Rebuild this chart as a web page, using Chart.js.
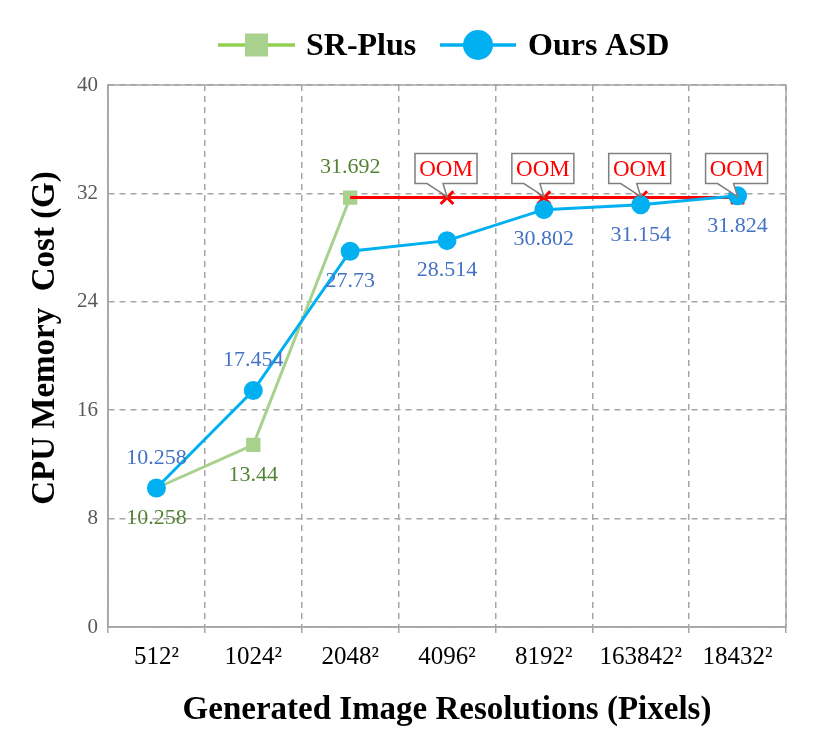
<!DOCTYPE html>
<html>
<head>
<meta charset="utf-8">
<script src="https://cdn.jsdelivr.net/npm/chart.js@4.4.1/dist/chart.umd.min.js"></script>
<style>
  body { margin: 0; background: #fff; }
  #wrap { width: 830px; height: 745px; position: relative; }
</style>
</head>
<body>
<div id="wrap"><canvas id="myChart"></canvas></div>
<script>
// data
const resolutions = ['512²', '1024²', '2048²', '4096²', '8192²', '163842²', '18432²'];
const srPlus = [10.258, 13.44, 31.692, null, null, null, null];
const oursASD = [10.258, 17.454, 27.73, 28.514, 30.802, 31.154, 31.824];
const oomLine = [null, null, 31.692, 31.692, 31.692, 31.692, 31.692];
const oomMarks = [false, false, false, true, true, true, true];
const yTicks = [0, 8, 16, 24, 32, 40];
const yTitle = 'CPU Memory  Cost (G)';

const serif = "'Liberation Serif', 'Times New Roman', serif";
const green = '#A9D18E';
const blue = '#00B0F0';
const red = '#FF0000';
const gridGray = '#A6A6A6';

// which side of the point each value label sits on
const srLabelSide = [1, 1, -1, 0, 0, 0, 0];
const oursLabelSide = [-1, -1, 1, 1, 1, 1, 1];

const extrasPlugin = {
  id: 'extras',
  afterDatasetsDraw(chart) {
    const ctx = chart.ctx;
    const area = chart.chartArea;

    // solid frame round the plot
    ctx.save();
    ctx.strokeStyle = gridGray;
    ctx.lineWidth = 1.5;
    ctx.strokeRect(area.left, area.top, area.right - area.left, area.bottom - area.top);
    ctx.restore();

    // value labels
    const drawLabels = (dsIndex, values, sides, color) => {
      const meta = chart.getDatasetMeta(dsIndex);
      ctx.save();
      ctx.font = '22px ' + serif;
      ctx.fillStyle = color;
      ctx.textAlign = 'center';
      ctx.textBaseline = 'middle';
      values.forEach((v, i) => {
        if (v === null || !sides[i]) return;
        const pt = meta.data[i];
        ctx.fillText(String(v), pt.x, pt.y + sides[i] * 30);
      });
      ctx.restore();
    };
    drawLabels(2, srPlus, srLabelSide, '#548235');
    drawLabels(0, oursASD, oursLabelSide, '#4472C4');

    // OOM callouts
    const oomMeta = chart.getDatasetMeta(1);
    ctx.save();
    oomMarks.forEach((on, i) => {
      if (!on) return;
      const pt = oomMeta.data[i];
      const w = 62, h = 30;
      const bx = pt.x - 1 - w / 2;
      const by = pt.y - 44;
      const bb = by + h;
      ctx.beginPath();
      ctx.moveTo(bx, by);
      ctx.lineTo(bx + w, by);
      ctx.lineTo(bx + w, bb);
      ctx.lineTo(pt.x - 4, bb);
      ctx.lineTo(pt.x, pt.y - 1);
      ctx.lineTo(bx + 12, bb);
      ctx.lineTo(bx, bb);
      ctx.closePath();
      ctx.fillStyle = '#fff';
      ctx.fill();
      ctx.strokeStyle = '#7F7F7F';
      ctx.lineWidth = 1.5;
      ctx.stroke();
      ctx.font = '23px ' + serif;
      ctx.fillStyle = red;
      ctx.textAlign = 'center';
      ctx.textBaseline = 'middle';
      ctx.fillText('OOM', bx + w / 2, by + h / 2 + 1);
    });
    ctx.restore();
  },
  afterDraw(chart) {
    const ctx = chart.ctx;
    const area = chart.chartArea;

    // y axis title, sitting a little above the plot's middle like the original
    ctx.save();
    ctx.translate(45, (area.top + area.bottom) / 2 - 18);
    ctx.rotate(-Math.PI / 2);
    ctx.font = 'bold 33px ' + serif;
    ctx.fillStyle = '#000';
    ctx.textAlign = 'center';
    ctx.textBaseline = 'middle';
    ctx.fillText(yTitle, 0, 0);
    ctx.restore();

    // legend: line + marker + bold name
    const y = 45;
    ctx.save();
    ctx.lineWidth = 3.5;
    ctx.strokeStyle = '#92D050';
    ctx.beginPath(); ctx.moveTo(218, y); ctx.lineTo(295, y); ctx.stroke();
    ctx.fillStyle = green;
    ctx.fillRect(245, y - 11.5, 23, 23);
    ctx.strokeStyle = blue;
    ctx.beginPath(); ctx.moveTo(440, y); ctx.lineTo(516, y); ctx.stroke();
    ctx.fillStyle = blue;
    ctx.beginPath(); ctx.arc(478, y, 15, 0, Math.PI * 2); ctx.fill();
    ctx.font = 'bold 32px ' + serif;
    ctx.fillStyle = '#000';
    ctx.textBaseline = 'middle';
    ctx.textAlign = 'left';
    ctx.fillText('SR-Plus', 306, y + 2);
    ctx.fillText('Ours ASD', 528, y + 2);
    ctx.restore();
  }
};

new Chart(document.getElementById('myChart'), {
  type: 'line',
  data: {
    labels: resolutions,
    datasets: [{
      label: 'Ours ASD',
      data: oursASD,
      borderColor: blue,
      backgroundColor: blue,
      borderWidth: 3,
      pointStyle: 'circle',
      pointRadius: 8,
      pointBackgroundColor: blue,
      pointBorderColor: blue,
      order: 1
    }, {
      label: 'OOM',
      data: oomLine,
      borderColor: red,
      borderWidth: 3,
      pointStyle: 'crossRot',
      pointRadius: oomMarks.map(m => m ? 9 : 0),
      pointBorderColor: red,
      pointBorderWidth: 3,
      order: 2
    }, {
      label: 'SR-Plus',
      data: srPlus,
      borderColor: green,
      backgroundColor: green,
      borderWidth: 3,
      pointStyle: 'rect',
      pointRadius: 8,
      pointBackgroundColor: green,
      pointBorderColor: green,
      order: 3
    }]
  },
  options: {
    responsive: true,
    maintainAspectRatio: false,
    animation: false,
    spanGaps: false,
    layout: { padding: { top: 85, right: 44, left: 0, bottom: 0 } },
    plugins: {
      legend: { display: false },
      tooltip: { enabled: false }
    },
    scales: {
      x: {
        offset: true,
        grid: {
          offset: true,
          color: gridGray,
          lineWidth: 1.5,
          tickLength: 6,
          tickColor: gridGray,
          tickBorderDash: []
        },
        border: { display: true, color: gridGray, width: 1.5, dash: [6, 5] },
        ticks: {
          color: '#000',
          font: { family: serif, size: 25 },
          padding: 9,
          maxRotation: 0,
          autoSkip: false
        },
        title: {
          display: true,
          text: 'Generated Image Resolutions (Pixels)',
          color: '#000',
          font: { family: serif, size: 33, weight: 'bold' },
          padding: { top: 0, bottom: 15 }
        },
        afterFit(scale) { scale.height = 118; }
      },
      y: {
        min: 0,
        max: 40,
        afterBuildTicks(scale) { scale.ticks = yTicks.map(v => ({ value: v })); },
        grid: {
          color: gridGray,
          lineWidth: 1.5,
          drawTicks: false
        },
        border: { display: true, color: gridGray, width: 1.5, dash: [6, 5] },
        ticks: {
          color: '#595959',
          font: { family: serif, size: 21 },
          padding: 10
        },
        title: { display: false },
        afterFit(scale) { scale.width = 108; }
      }
    },
    elements: { line: { tension: 0 } }
  },
  plugins: [extrasPlugin]
});
</script>
</body>
</html>
